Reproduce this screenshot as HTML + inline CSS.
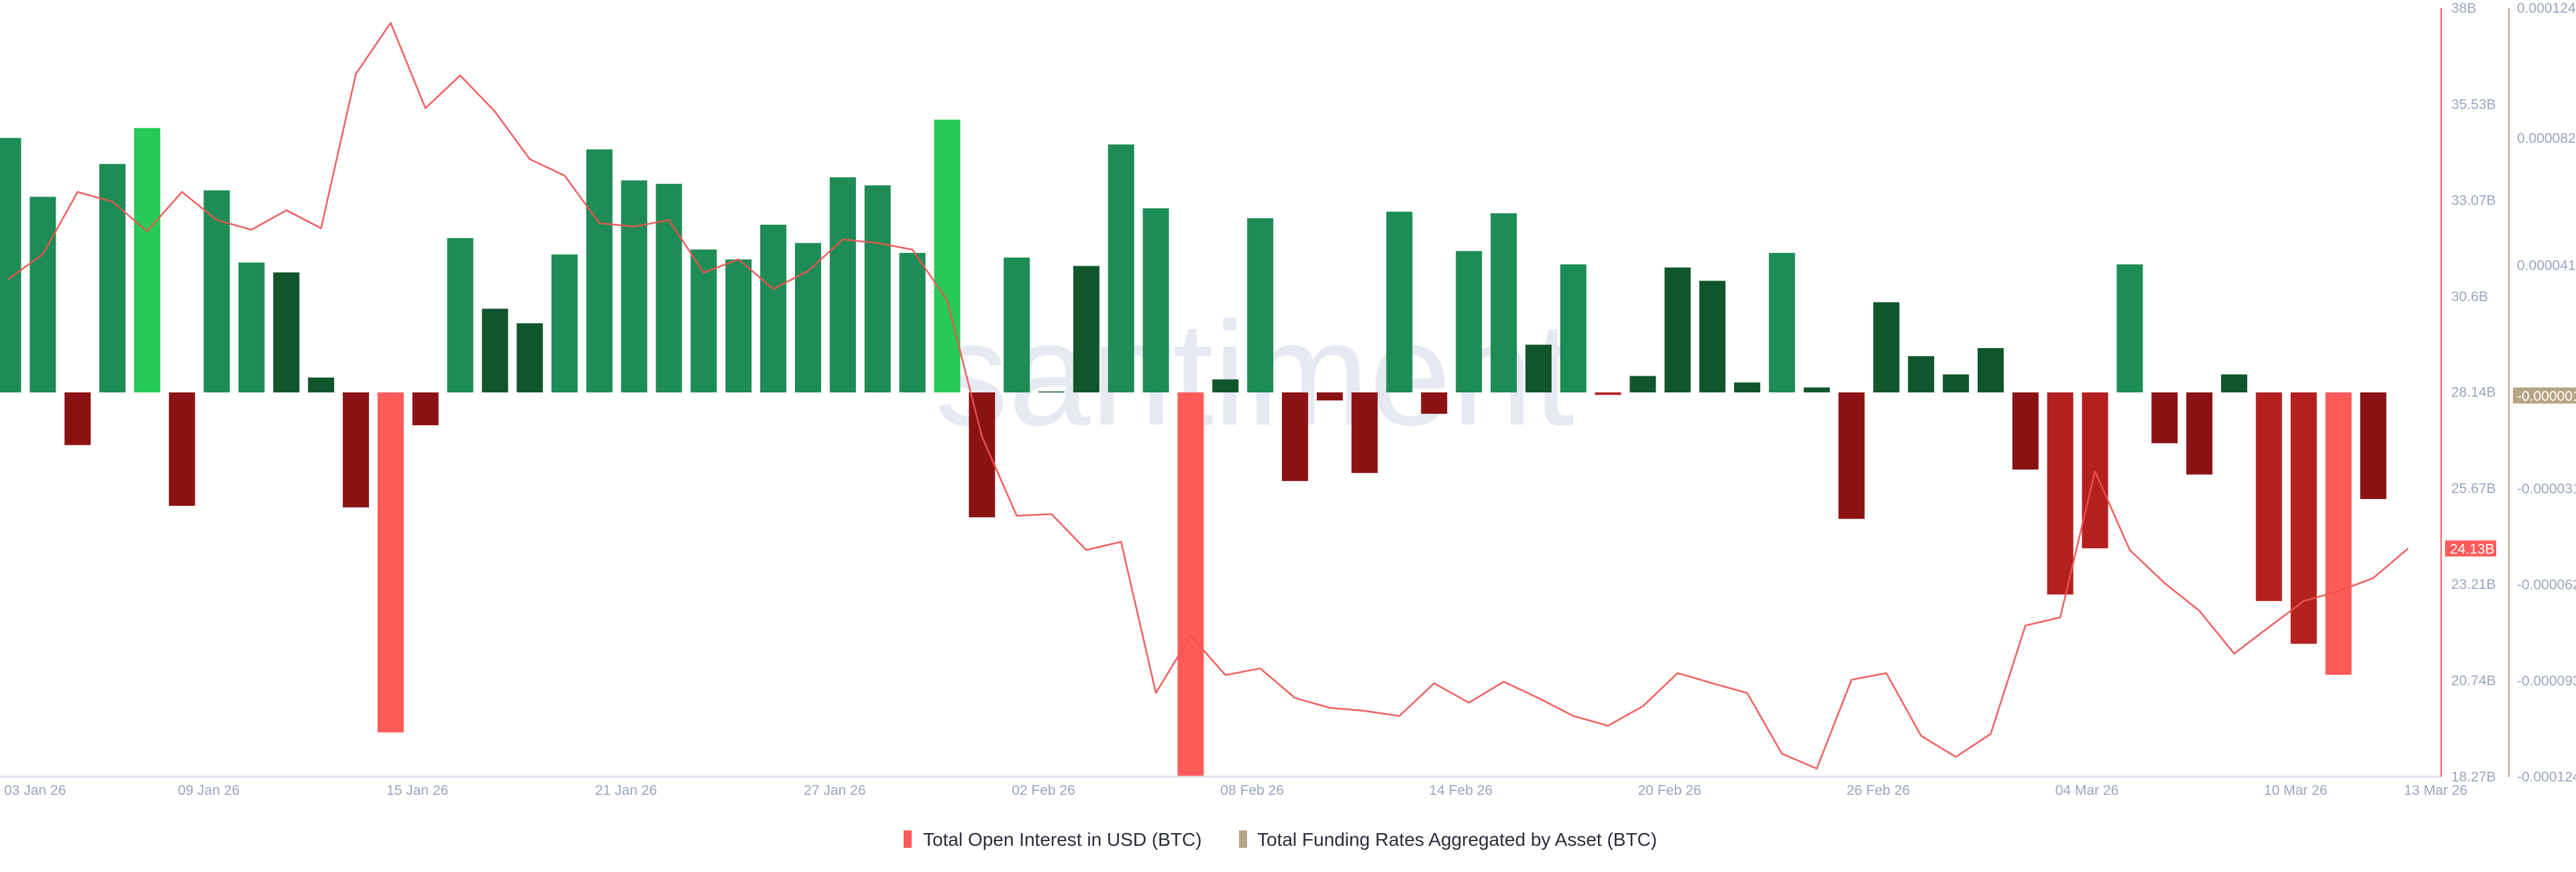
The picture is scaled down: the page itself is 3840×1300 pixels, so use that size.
<!DOCTYPE html>
<html><head><meta charset="utf-8"><style>
html,body{margin:0;padding:0;background:#fff;width:3840px;height:1300px;overflow:hidden;font-family:"Liberation Sans",sans-serif}
</style></head><body>
<svg id="chart" width="3840" height="1300" viewBox="0 0 3840 1300" xmlns="http://www.w3.org/2000/svg" font-family="Liberation Sans, sans-serif">
<defs><clipPath id="plotclip"><rect x="0" y="12" width="3639" height="1146"/></clipPath></defs>
<text x="1393" y="633" font-size="220" fill="#e6e9f2">santiment</text>
<g id="bars" clip-path="url(#plotclip)"></g>
<g id="line" clip-path="url(#plotclip)"></g>
<line x1="0" y1="1158" x2="3639" y2="1158" stroke="#e1e5ee" stroke-width="3"/>
<line x1="3639" y1="12" x2="3639" y2="1158" stroke="#ff5a5a" stroke-width="2"/>
<line x1="3740" y1="12" x2="3740" y2="1158" stroke="#b5a584" stroke-width="2"/>
<g id="xticks"></g><g id="yticks"></g>
<g>
<rect x="1347" y="1238" width="12" height="26" fill="#ff5a5a"/>
<text x="1376" y="1261" font-size="28" fill="#2a2d3a">Total Open Interest in USD (BTC)</text>
<rect x="1847" y="1238" width="12" height="26" fill="#b5a584"/>
<text x="1874" y="1261" font-size="28" fill="#2a2d3a">Total Funding Rates Aggregated by Asset (BTC)</text>
</g>
</svg>
<script>
const dates = ["03 Jan 26","09 Jan 26","15 Jan 26","21 Jan 26","27 Jan 26","02 Feb 26","08 Feb 26","14 Feb 26","20 Feb 26","26 Feb 26","04 Mar 26","10 Mar 26","13 Mar 26"];
const dateIdx = [0,6,12,18,24,30,36,42,48,54,60,66,69];
const oiValues = [31.04,31.68,33.28,33.03,32.27,33.28,32.56,32.31,32.81,32.35,36.31,37.62,35.43,36.27,35.34,34.12,33.70,32.48,32.39,32.56,31.21,31.55,30.79,31.25,32.06,31.97,31.80,30.50,27.00,24.97,25.01,24.09,24.30,20.42,21.89,20.88,21.05,20.29,20.04,19.96,19.83,20.67,20.17,20.71,20.29,19.83,19.58,20.08,20.93,20.67,20.42,18.86,18.48,20.76,20.93,19.32,18.78,19.37,22.15,22.36,26.11,24.09,23.24,22.53,21.43,22.11,22.78,23.03,23.37,24.13];
const fundingValues = [82.1,63.1,-17.0,73.7,85.3,-36.6,65.2,41.9,38.7,4.8,-37.1,-109.7,-10.6,49.8,27.0,22.3,44.5,78.4,68.4,67.3,46.1,42.9,54.1,48.2,69.4,66.8,45.0,88.0,-40.3,43.5,0.3,40.8,80.0,59.4,-130,4.2,56.2,-28.6,-2.6,-26.0,58.3,-6.9,45.6,57.8,15.4,41.3,-0.8,5.3,40.3,36.0,3.2,45.0,1.6,-40.8,29.1,11.7,5.8,14.3,-24.9,-65.2,-50.3,41.3,-16.4,-26.5,5.8,-67.3,-81.1,-91.1,-34.4];
const fundingShade = ["g","g","r","g","G","r","g","g","d","d","r","s","r","g","d","d","g","g","g","g","g","g","g","g","g","g","g","G","r","g","d","d","g","g","s","d","g","r","r","r","g","r","g","g","d","g","R","d","d","d","d","g","d","r","d","d","d","d","r","R","R","g","r","r","d","R","R","s","r"];
const oiTicks = ["38B","35.53B","33.07B","30.6B","28.14B","25.67B","23.21B","20.74B","18.27B"];
const oiTickVals = [38,35.53,33.07,30.6,28.14,25.67,23.21,20.74,18.27];
const fTicks = ["0.000124","0.000082","0.000041","-0.000001","-0.000031","-0.000062","-0.000093","-0.000124"];
const fTickVals = [124,82,41,-1,-31,-62,-93,-124];

const NS="http://www.w3.org/2000/svg";
const X=i=>12+51.85*i;
const YO=v=>12+(38-v)/(38-18.27)*1146;
const YF=v=>585-v*(1146/248);
const COL={g:"#1e8c56",G:"#27c957",d:"#11552d",r:"#8b1314",R:"#b3211f",s:"#ff5a5a"};
function mk(tag,attrs,parent){const e=document.createElementNS(NS,tag);for(const k in attrs)e.setAttribute(k,attrs[k]);parent.appendChild(e);return e;}
const bars=document.getElementById('bars');
fundingValues.forEach((v,i)=>{
  const y0=YF(0),y1=YF(v);
  const r=mk('rect',{x:X(i)-19.5,y:Math.min(y0,y1),width:39,height:Math.max(1.5,Math.abs(y1-y0)),fill:COL[fundingShade[i]]},bars);
  
  
});
const lg=document.getElementById('line');
const p=mk('polyline',{points:oiValues.map((v,i)=>X(i)+","+YO(v)).join(" "),fill:"none",stroke:"#f05252","stroke-opacity":"0.9","stroke-width":"2.6","stroke-linejoin":"round"},lg);


const xt=document.getElementById('xticks');
dates.forEach((d,k)=>{
  const last=k===dates.length-1, first=k===0;
  const attrs={y:1185,"font-size":"21",fill:"#9aa4c0"};
  if(first){attrs.x=6;}
  else if(last){attrs.x=X(dateIdx[k])-6;}
  else {attrs.x=X(dateIdx[k])-12;attrs["text-anchor"]="middle";}
  const t=mk('text',attrs,xt);
  t.textContent=d;
  
  
});
const yt=document.getElementById('yticks');
oiTicks.forEach((s,k)=>{
  const t=mk('text',{x:3654,y:YO(oiTickVals[k])+7,"font-size":"21",fill:"#9aa4c0"},yt);
  t.textContent=s;
  
  
});
fTicks.forEach((s,k)=>{
  if(fTickVals[k]===-1)return;
  const t=mk('text',{x:3752,y:YF(fTickVals[k])+7,"font-size":"21",fill:"#9aa4c0"},yt);
  t.textContent=s;
  
  
});
const lastOI=oiValues[oiValues.length-1];
const b1=mk('rect',{x:3645,y:YO(lastOI)-12,width:76,height:24,fill:"#ff5a5a"},yt);


const t1=mk('text',{x:3652,y:YO(lastOI)+8,"font-size":"21",fill:"#fff"},yt);
t1.textContent=lastOI.toFixed(2)+"B";


const b2=mk('rect',{x:3746,y:YF(-1)-12,width:94,height:24,fill:"#b5a584"},yt);


const t2=mk('text',{x:3752,y:YF(-1)+8,"font-size":"21",fill:"#fff"},yt);
t2.textContent="-0.000001";


</script>
</body></html>
